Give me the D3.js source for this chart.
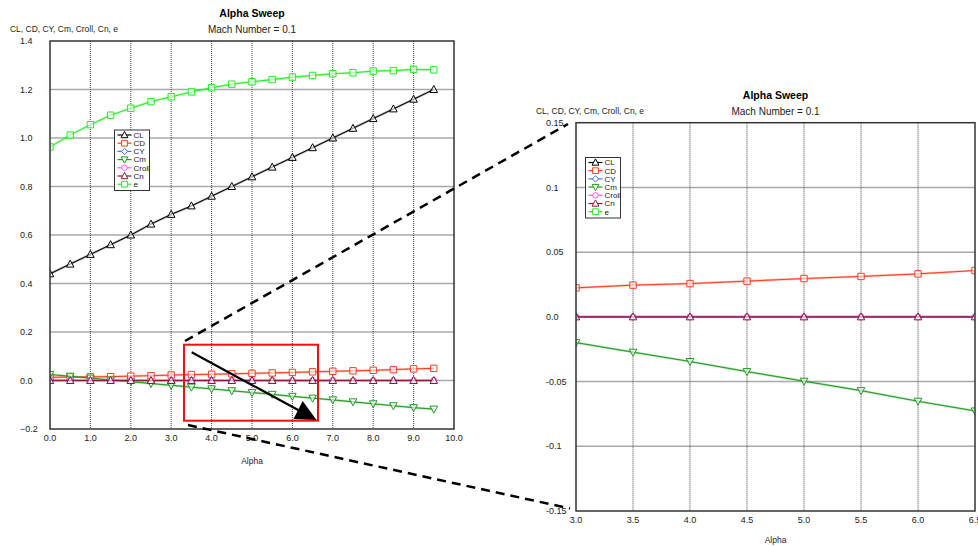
<!DOCTYPE html>
<html><head><meta charset="utf-8">
<script src="https://cdn.jsdelivr.net/npm/d3@7"></script>
<style>
html,body{margin:0;padding:0;background:#fff;}
svg{display:block;font-family:"Liberation Sans",Arial,sans-serif;}
</style></head>
<body>
<svg id="c" width="978" height="546"></svg>
<script>
// ---- data ----
const alpha = [0,0.5,1,1.5,2,2.5,3,3.5,4,4.5,5,5.5,6,6.5,7,7.5,8,8.5,9,9.5];
const CL    = [0.44,0.48,0.52,0.56,0.60,0.645,0.685,0.72,0.76,0.80,0.84,0.88,0.92,0.96,1.00,1.04,1.08,1.12,1.16,1.20];
const CD    = [0.013,0.014,0.015,0.016,0.018,0.020,0.0224,0.0245,0.0257,0.0276,0.0296,0.0312,0.0332,0.0358,0.038,0.040,0.042,0.045,0.048,0.050];
const CY    = [0,0,0,0,0,0,0,0,0,0,0,0,0,0,0,0,0,0,0,0];
const Cm    = [0.025,0.0175,0.010,0.0025,-0.005,-0.0125,-0.0199,-0.0273,-0.0345,-0.0423,-0.0497,-0.057,-0.0652,-0.0727,-0.080,-0.088,-0.096,-0.104,-0.112,-0.118];
const Croll = [0,0,0,0,0,0,0,0,0,0,0,0,0,0,0,0,0,0,0,0];
const Cn    = [0,0,0,0,0,0,0,0,0,0,0,0,0,0,0,0,0,0,0,0];
const e     = [0.963,1.012,1.055,1.094,1.123,1.150,1.170,1.190,1.207,1.222,1.232,1.241,1.251,1.258,1.265,1.269,1.276,1.278,1.283,1.281];

const seriesNames = ["CL","CD","CY","Cm","Croll","Cn","e"];
const leftXTicks  = [0,1,2,3,4,5,6,7,8,9,10];
const leftYTicks  = [-0.2,0,0.2,0.4,0.6,0.8,1.0,1.2,1.4];
const rightXTicks = [3.0,3.5,4.0,4.5,5.0,5.5,6.0,6.5];
const rightYTicks = [-0.15,-0.1,-0.05,0,0.05,0.1,0.15];
const titleText = "Alpha Sweep";
const subtitleText = "Mach Number = 0.1";
const yLabelText = "CL, CD, CY, Cm, Croll, Cn, e";
const xLabelText = "Alpha";

// ---- styles ----
const seriesStyle = {
  CL:{values:CL,color:"#000000",marker:"tri"},
  CD:{values:CD,color:"#ff3b1f",marker:"sq"},
  CY:{values:CY,color:"#3f6fff",marker:"dia"},
  Cm:{values:Cm,color:"#1f9a1f",marker:"tridown"},
  Croll:{values:Croll,color:"#ff55ff",marker:"circ"},
  Cn:{values:Cn,color:"#8b1a3a",marker:"tri"},
  e:{values:e,color:"#22ee22",marker:"sq"}
};
const drawOrder = ["e","CL","CD","Cm","CY","Croll","Cn"];

function markerPath(t, s){
  s = s||1;
  switch(t){
    case "tri": return `M0,${-4*s}L${3.8*s},${3*s}L${-3.8*s},${3*s}Z`;
    case "tridown": return `M0,${4*s}L${3.8*s},${-3*s}L${-3.8*s},${-3*s}Z`;
    case "sq": return `M${-3.2*s},${-3.2*s}h${6.4*s}v${6.4*s}h${-6.4*s}Z`;
    case "dia": return `M0,${-3.5*s}L${3.5*s},0L0,${3.5*s}L${-3.5*s},0Z`;
    case "circ": return d3.arc()({innerRadius:0,outerRadius:3*s,startAngle:0,endAngle:2*Math.PI});
  }
}

const svg = d3.select("#c");
svg.append("rect").attr("width",978).attr("height",546).attr("fill","#fff");

function drawChart(cfg, id){
  const g = svg.append("g");
  const x = d3.scaleLinear().domain(cfg.xd).range([cfg.l, cfg.r]);
  const y = d3.scaleLinear().domain(cfg.yd).range([cfg.b, cfg.t]);

  g.append("clipPath").attr("id","clip"+id).append("rect")
    .attr("x",cfg.l).attr("y",cfg.t).attr("width",cfg.r-cfg.l).attr("height",cfg.b-cfg.t);

  // grid
  g.append("g").selectAll("line").data(cfg.yt.filter(v=>v>cfg.yd[0]+1e-9 && v<cfg.yd[1]-1e-9)).join("line")
    .attr("x1",cfg.l).attr("x2",cfg.r).attr("y1",d=>y(d)).attr("y2",d=>y(d))
    .attr("stroke","#a8a8a8").attr("stroke-width",1.5);
  g.append("g").selectAll("line").data(cfg.xt.filter(v=>v>cfg.xd[0]+1e-9 && v<cfg.xd[1]-1e-9)).join("line")
    .attr("y1",cfg.t).attr("y2",cfg.b).attr("x1",d=>x(d)).attr("x2",d=>x(d))
    .attr("stroke","#444").attr("stroke-width",1).attr("stroke-dasharray","1,1");

  // series
  const plot = g.append("g").attr("clip-path",`url(#clip${id})`);
  const line = d3.line().x((d,i)=>x(alpha[i])).y(d=>y(d));
  drawOrder.forEach(n=>{
    const s = seriesStyle[n];
    plot.append("path").attr("d",line(s.values)).attr("fill","none")
      .attr("stroke",s.color).attr("stroke-opacity",0.35).attr("stroke-width",2.2);
    plot.append("path").attr("d",line(s.values)).attr("fill","none")
      .attr("stroke",s.color).attr("stroke-width",1);
    plot.selectAll(null).data(s.values).join("path")
      .attr("transform",(d,i)=>`translate(${x(alpha[i])},${y(d)})`)
      .attr("d",markerPath(s.marker)).attr("fill","#fff").attr("fill-opacity",0.6)
      .attr("stroke",s.color).attr("stroke-width",1);
  });

  // border
  g.append("rect").attr("x",cfg.l).attr("y",cfg.t).attr("width",cfg.r-cfg.l).attr("height",cfg.b-cfg.t)
    .attr("fill","none").attr("stroke","#333").attr("stroke-width",1.5);

  // tick labels
  g.append("g").selectAll("text").data(cfg.yt).join("text")
    .attr("x",cfg.l-30).attr("y",d=>y(d)).attr("dy","0.35em")
    .attr("font-size",9).attr("fill","#222")
    .text(d=>cfg.yfmt(d));
  g.append("g").selectAll("text").data(cfg.xt).join("text")
    .attr("x",d=>x(d)).attr("y",cfg.b+9).attr("dy","0.35em").attr("text-anchor","middle")
    .attr("font-size",9).attr("fill","#222")
    .text(d=>d3.format(".1f")(d));

  const cx = (cfg.l+cfg.r)/2;
  g.append("text").attr("x",cx).attr("y",cfg.t-24).attr("text-anchor","middle")
    .attr("font-size",10.5).attr("font-weight","bold").text(titleText);
  g.append("text").attr("x",cx).attr("y",cfg.t-8).attr("text-anchor","middle")
    .attr("font-size",10).attr("fill","#222").text(subtitleText);
  g.append("text").attr("x",cfg.l-40).attr("y",cfg.t-9).attr("font-size",8.5).attr("fill","#222")
    .attr("textLength",108).attr("lengthAdjust","spacingAndGlyphs").text(yLabelText);
  g.append("text").attr("x",cx).attr("y",cfg.b+cfg.xlOff).attr("dy","0.35em").attr("text-anchor","middle")
    .attr("font-size",8.5).attr("fill","#222").text(xLabelText);

  // legend
  const lg = g.append("g").attr("transform",`translate(${cfg.lx},${cfg.ly})`);
  lg.append("rect").attr("width",35).attr("height",60.5).attr("fill","#fff").attr("stroke","#333").attr("stroke-width",1);
  seriesNames.forEach((n,i)=>{
    const s = seriesStyle[n];
    const yy = 5 + i*8.2;
    lg.append("line").attr("x1",3).attr("x2",17).attr("y1",yy).attr("y2",yy).attr("stroke",s.color).attr("stroke-width",1.2);
    lg.append("path").attr("transform",`translate(10,${yy})`).attr("d",markerPath(s.marker,0.9))
      .attr("fill","#fff").attr("stroke",s.color).attr("stroke-width",1);
    lg.append("text").attr("x",19).attr("y",yy).attr("dy","0.35em").attr("font-size",8).attr("fill","#222").text(n);
  });
  return {x,y};
}

const left = drawChart({xd:[0,10],yd:[-0.2,1.4],l:50,r:454,t:41,b:429,xt:leftXTicks,yt:leftYTicks,xlOff:32,
  yfmt:d3.format(".1f"),lx:114.5,ly:130},"L");
const right = drawChart({xd:[3,6.5],yd:[-0.15,0.15],l:576,r:975,t:122.7,b:511,xt:rightXTicks,yt:rightYTicks,xlOff:29.5,
  yfmt:d=>{ if(Math.abs(d)<1e-9) return "0.0"; return String(+d.toFixed(2)); },lx:585.5,ly:157.5},"R");

// ---- annotations ----
const ann = svg.append("g");
ann.append("line").attr("x1",185).attr("y1",341).attr("x2",568).attr("y2",124)
  .attr("stroke","#000").attr("stroke-width",2.5).attr("stroke-dasharray","9,6");
ann.append("line").attr("x1",188).attr("y1",425).attr("x2",570).attr("y2",508.5)
  .attr("stroke","#000").attr("stroke-width",2.5).attr("stroke-dasharray","9,6");
ann.append("rect").attr("x",184).attr("y",344.7).attr("width",134).attr("height",76)
  .attr("fill","none").attr("stroke","#f01010").attr("stroke-width",2);
ann.append("line").attr("x1",191.7).attr("y1",352.3).attr("x2",300).attr("y2",411)
  .attr("stroke","#000").attr("stroke-width",2.2);
ann.append("path").attr("d","M316.5,420L293.5,419L302.7,401Z").attr("fill","#000");
</script>
</body></html>
